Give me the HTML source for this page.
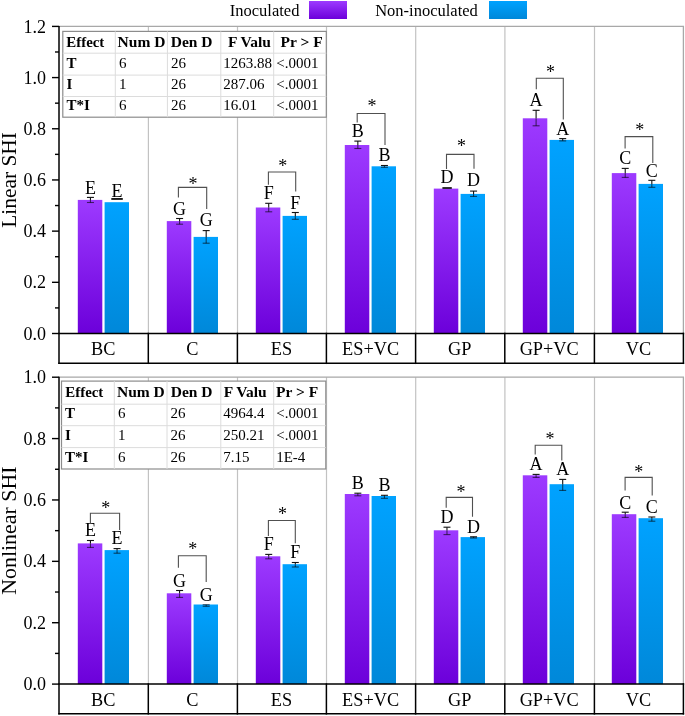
<!DOCTYPE html><html><head><meta charset="utf-8"><style>html,body{margin:0;padding:0;background:#fff;}svg{display:block;will-change:transform;}</style></head><body>
<svg width="685" height="716" viewBox="0 0 685 716" font-family='"Liberation Serif", serif'>
<defs>
<linearGradient id="gp" x1="0" y1="0" x2="0" y2="1"><stop offset="0" stop-color="#9d3aff"/><stop offset="1" stop-color="#6c00da"/></linearGradient>
<linearGradient id="gb" x1="0" y1="0" x2="0" y2="1"><stop offset="0" stop-color="#00a2ff"/><stop offset="1" stop-color="#0088d9"/></linearGradient>
<linearGradient id="lp" x1="0" y1="0" x2="0" y2="1"><stop offset="0" stop-color="#9d3aff"/><stop offset="1" stop-color="#6c00da"/></linearGradient>
</defs>
<rect width="685" height="716" fill="#fff"/>
<text x="229.8" y="15.5" font-size="16.5" fill="#000">Inoculated</text>
<rect x="309" y="1" width="38" height="18" fill="url(#gp)"/>
<text x="375.2" y="15.5" font-size="16.5" fill="#000">Non-inoculated</text>
<rect x="489" y="1" width="38" height="18" fill="url(#gb)"/>
<g stroke="#c2c2c2" stroke-width="1.2" fill="none">
<line x1="148.4" y1="26.4" x2="148.4" y2="333.5"/>
<line x1="237.5" y1="26.4" x2="237.5" y2="333.5"/>
<line x1="326.5" y1="26.4" x2="326.5" y2="333.5"/>
<line x1="415.7" y1="26.4" x2="415.7" y2="333.5"/>
<line x1="504.9" y1="26.4" x2="504.9" y2="333.5"/>
<line x1="594.5" y1="26.4" x2="594.5" y2="333.5"/>
</g>
<path d="M59.0 26.4H683.4V333.5" stroke="#a8a8a8" stroke-width="1.3" fill="none"/>
<rect x="62.8" y="31.4" width="263.5" height="85.8" fill="#fff" stroke="#8c8c8c" stroke-width="1.2"/>
<g stroke="#dcdcdc" stroke-width="1">
<line x1="62.8" y1="53.2" x2="326.3" y2="53.2"/>
<line x1="62.8" y1="75.1" x2="326.3" y2="75.1"/>
<line x1="62.8" y1="96.5" x2="326.3" y2="96.5"/>
<line x1="115.3" y1="31.4" x2="115.3" y2="117.2"/>
<line x1="167.4" y1="31.4" x2="167.4" y2="117.2"/>
<line x1="220.8" y1="31.4" x2="220.8" y2="117.2"/>
<line x1="273.7" y1="31.4" x2="273.7" y2="117.2"/>
</g>
<clipPath id="c0_0"><rect x="62.8" y="31.4" width="51.7" height="85.8"/></clipPath>
<clipPath id="c0_1"><rect x="115.3" y="31.4" width="51" height="85.8"/></clipPath>
<clipPath id="c0_2"><rect x="167.4" y="31.4" width="52.1" height="85.8"/></clipPath>
<clipPath id="c0_3"><rect x="220.8" y="31.4" width="51.7" height="85.8"/></clipPath>
<clipPath id="c0_4"><rect x="273.7" y="31.4" width="50.8" height="85.8"/></clipPath>
<text x="66.3" y="46.66" font-size="14.9" font-weight="bold" clip-path="url(#c0_0)">Effect</text>
<text x="117.6" y="46.66" font-size="15.5" font-weight="bold" clip-path="url(#c0_1)">Num D</text>
<text x="170.8" y="46.66" font-size="15.5" font-weight="bold" clip-path="url(#c0_2)">Den D</text>
<text x="228" y="46.66" font-size="15.5" font-weight="bold" clip-path="url(#c0_3)">F Valu</text>
<text x="280.6" y="46.66" font-size="15.5" font-weight="bold" clip-path="url(#c0_4)">Pr &gt; F</text>
<text x="66.4" y="67.53" font-size="15" font-weight="bold" clip-path="url(#c0_0)">T</text>
<text x="118.9" y="67.53" font-size="15"  clip-path="url(#c0_1)">6</text>
<text x="171" y="67.53" font-size="15"  clip-path="url(#c0_2)">26</text>
<text x="223.3" y="67.53" font-size="15"  clip-path="url(#c0_3)">1263.88</text>
<text x="276.2" y="67.53" font-size="15"  clip-path="url(#c0_4)">&lt;.0001</text>
<text x="66.4" y="89.08" font-size="15" font-weight="bold" clip-path="url(#c0_0)">I</text>
<text x="118.9" y="89.08" font-size="15"  clip-path="url(#c0_1)">1</text>
<text x="171" y="89.08" font-size="15"  clip-path="url(#c0_2)">26</text>
<text x="223.3" y="89.08" font-size="15"  clip-path="url(#c0_3)">287.06</text>
<text x="276.2" y="89.08" font-size="15"  clip-path="url(#c0_4)">&lt;.0001</text>
<text x="66.4" y="109.99" font-size="15" font-weight="bold" clip-path="url(#c0_0)">T*I</text>
<text x="118.9" y="109.99" font-size="15"  clip-path="url(#c0_1)">6</text>
<text x="171" y="109.99" font-size="15"  clip-path="url(#c0_2)">26</text>
<text x="223.3" y="109.99" font-size="15"  clip-path="url(#c0_3)">16.01</text>
<text x="276.2" y="109.99" font-size="15"  clip-path="url(#c0_4)">&lt;.0001</text>
<rect x="77.8" y="199.9" width="24.5" height="133.6" fill="url(#gp)"/>
<rect x="104.6" y="202.2" width="24.4" height="131.3" fill="url(#gb)"/>
<g stroke="#111" stroke-width="1.1">
<line x1="90.45" y1="197.4" x2="90.45" y2="199.9"/><line x1="86.95" y1="197.4" x2="93.95" y2="197.4"/>
</g><g stroke="#000" stroke-opacity="0.6" stroke-width="1.1">
<line x1="90.45" y1="199.9" x2="90.45" y2="202.5"/><line x1="86.95" y1="202.5" x2="93.95" y2="202.5"/>
</g>
<text x="90.45" y="193.7" font-size="18" text-anchor="middle">E</text>
<text x="117.05" y="197.2" font-size="18" text-anchor="middle">E</text>
<rect x="166.8" y="221.1" width="24.5" height="112.4" fill="url(#gp)"/>
<rect x="193.6" y="236.9" width="24.4" height="96.6" fill="url(#gb)"/>
<g stroke="#111" stroke-width="1.1">
<line x1="179.58" y1="218.5" x2="179.58" y2="221.1"/><line x1="176.08" y1="218.5" x2="183.08" y2="218.5"/>
</g><g stroke="#000" stroke-opacity="0.6" stroke-width="1.1">
<line x1="179.58" y1="221.1" x2="179.58" y2="224.2"/><line x1="176.08" y1="224.2" x2="183.08" y2="224.2"/>
</g>
<g stroke="#111" stroke-width="1.1">
<line x1="206.18" y1="230.6" x2="206.18" y2="236.9"/><line x1="202.68" y1="230.6" x2="209.68" y2="230.6"/>
</g><g stroke="#000" stroke-opacity="0.6" stroke-width="1.1">
<line x1="206.18" y1="236.9" x2="206.18" y2="243.2"/><line x1="202.68" y1="243.2" x2="209.68" y2="243.2"/>
</g>
<text x="179.58" y="214.5" font-size="18" text-anchor="middle">G</text>
<text x="206.18" y="226.3" font-size="18" text-anchor="middle">G</text>
<path d="M178.4 197.4V187.4H206.7V209" fill="none" stroke="#505050" stroke-width="1.1"/>
<text x="192.9" y="190.2" font-size="18" text-anchor="middle">*</text>
<rect x="255.8" y="207.5" width="24.5" height="126" fill="url(#gp)"/>
<rect x="282.6" y="215.9" width="24.4" height="117.6" fill="url(#gb)"/>
<g stroke="#111" stroke-width="1.1">
<line x1="268.71" y1="203.3" x2="268.71" y2="207.5"/><line x1="265.21" y1="203.3" x2="272.21" y2="203.3"/>
</g><g stroke="#000" stroke-opacity="0.6" stroke-width="1.1">
<line x1="268.71" y1="207.5" x2="268.71" y2="211.8"/><line x1="265.21" y1="211.8" x2="272.21" y2="211.8"/>
</g>
<g stroke="#111" stroke-width="1.1">
<line x1="295.31" y1="212.5" x2="295.31" y2="215.9"/><line x1="291.81" y1="212.5" x2="298.81" y2="212.5"/>
</g><g stroke="#000" stroke-opacity="0.6" stroke-width="1.1">
<line x1="295.31" y1="215.9" x2="295.31" y2="219.3"/><line x1="291.81" y1="219.3" x2="298.81" y2="219.3"/>
</g>
<text x="268.71" y="198.8" font-size="18" text-anchor="middle">F</text>
<text x="295.31" y="208.8" font-size="18" text-anchor="middle">F</text>
<path d="M268.4 184.7V172H295.7V191.4" fill="none" stroke="#505050" stroke-width="1.1"/>
<text x="282.7" y="171.5" font-size="18" text-anchor="middle">*</text>
<rect x="344.8" y="145" width="24.5" height="188.5" fill="url(#gp)"/>
<rect x="371.6" y="166.3" width="24.4" height="167.2" fill="url(#gb)"/>
<g stroke="#111" stroke-width="1.1">
<line x1="357.84" y1="141.1" x2="357.84" y2="145"/><line x1="354.34" y1="141.1" x2="361.34" y2="141.1"/>
</g><g stroke="#000" stroke-opacity="0.6" stroke-width="1.1">
<line x1="357.84" y1="145" x2="357.84" y2="148.5"/><line x1="354.34" y1="148.5" x2="361.34" y2="148.5"/>
</g>
<g stroke="#111" stroke-width="1.1">
<line x1="384.44" y1="165.5" x2="384.44" y2="166.3"/><line x1="380.94" y1="165.5" x2="387.94" y2="165.5"/>
</g><g stroke="#000" stroke-opacity="0.6" stroke-width="1.1">
<line x1="384.44" y1="166.3" x2="384.44" y2="167.3"/><line x1="380.94" y1="167.3" x2="387.94" y2="167.3"/>
</g>
<text x="357.84" y="136.6" font-size="18" text-anchor="middle">B</text>
<text x="384.44" y="161" font-size="18" text-anchor="middle">B</text>
<path d="M357.2 122.5V113.5H385V145.1" fill="none" stroke="#505050" stroke-width="1.1"/>
<text x="372" y="112" font-size="18" text-anchor="middle">*</text>
<rect x="433.8" y="188.6" width="24.5" height="144.9" fill="url(#gp)"/>
<rect x="460.6" y="193.9" width="24.4" height="139.6" fill="url(#gb)"/>
<g stroke="#111" stroke-width="1.1">
<line x1="473.57" y1="191.1" x2="473.57" y2="193.9"/><line x1="470.07" y1="191.1" x2="477.07" y2="191.1"/>
</g><g stroke="#000" stroke-opacity="0.6" stroke-width="1.1">
<line x1="473.57" y1="193.9" x2="473.57" y2="196.4"/><line x1="470.07" y1="196.4" x2="477.07" y2="196.4"/>
</g>
<text x="446.97" y="183.4" font-size="18" text-anchor="middle">D</text>
<text x="473.57" y="186.4" font-size="18" text-anchor="middle">D</text>
<path d="M446.5 169V154.4H474V168.7" fill="none" stroke="#505050" stroke-width="1.1"/>
<text x="461.5" y="152.3" font-size="18" text-anchor="middle">*</text>
<rect x="522.8" y="118.3" width="24.5" height="215.2" fill="url(#gp)"/>
<rect x="549.6" y="139.9" width="24.4" height="193.6" fill="url(#gb)"/>
<g stroke="#111" stroke-width="1.1">
<line x1="536.1" y1="110.3" x2="536.1" y2="118.3"/><line x1="532.6" y1="110.3" x2="539.6" y2="110.3"/>
</g><g stroke="#000" stroke-opacity="0.6" stroke-width="1.1">
<line x1="536.1" y1="118.3" x2="536.1" y2="125.8"/><line x1="532.6" y1="125.8" x2="539.6" y2="125.8"/>
</g>
<g stroke="#111" stroke-width="1.1">
<line x1="562.7" y1="138.6" x2="562.7" y2="139.9"/><line x1="559.2" y1="138.6" x2="566.2" y2="138.6"/>
</g><g stroke="#000" stroke-opacity="0.6" stroke-width="1.1">
<line x1="562.7" y1="139.9" x2="562.7" y2="140.9"/><line x1="559.2" y1="140.9" x2="566.2" y2="140.9"/>
</g>
<text x="536.1" y="105.8" font-size="18" text-anchor="middle">A</text>
<text x="562.7" y="134.5" font-size="18" text-anchor="middle">A</text>
<path d="M536.3 89.2V78.2H563.3V119.6" fill="none" stroke="#505050" stroke-width="1.1"/>
<text x="550.5" y="77.6" font-size="18" text-anchor="middle">*</text>
<rect x="611.8" y="173.1" width="24.5" height="160.4" fill="url(#gp)"/>
<rect x="638.6" y="183.9" width="24.4" height="149.6" fill="url(#gb)"/>
<g stroke="#111" stroke-width="1.1">
<line x1="625.23" y1="168.4" x2="625.23" y2="173.1"/><line x1="621.73" y1="168.4" x2="628.73" y2="168.4"/>
</g><g stroke="#000" stroke-opacity="0.6" stroke-width="1.1">
<line x1="625.23" y1="173.1" x2="625.23" y2="177.4"/><line x1="621.73" y1="177.4" x2="628.73" y2="177.4"/>
</g>
<g stroke="#111" stroke-width="1.1">
<line x1="651.83" y1="180.3" x2="651.83" y2="183.9"/><line x1="648.33" y1="180.3" x2="655.33" y2="180.3"/>
</g><g stroke="#000" stroke-opacity="0.6" stroke-width="1.1">
<line x1="651.83" y1="183.9" x2="651.83" y2="187.3"/><line x1="648.33" y1="187.3" x2="655.33" y2="187.3"/>
</g>
<text x="625.23" y="163.8" font-size="18" text-anchor="middle">C</text>
<text x="651.83" y="176.7" font-size="18" text-anchor="middle">C</text>
<path d="M625.1 148.6V136.6H652.8V162.9" fill="none" stroke="#505050" stroke-width="1.1"/>
<text x="639.7" y="135.6" font-size="18" text-anchor="middle">*</text>
<rect x="111.3" y="198.1" width="11.5" height="1.7" fill="#000"/>
<rect x="442.4" y="187.2" width="9.4" height="1.6" fill="#000"/>
<g stroke="#000" stroke-width="1.5" fill="none" stroke-linecap="square">
<line x1="59.0" y1="26.7" x2="59.0" y2="363.3"/>
<line x1="59.0" y1="333.5" x2="683.4" y2="333.5"/>
<line x1="59.0" y1="363.3" x2="683.4" y2="363.3"/>
<line x1="148.3" y1="333.5" x2="148.3" y2="363.3"/>
<line x1="237.4" y1="333.5" x2="237.4" y2="363.3"/>
<line x1="326.4" y1="333.5" x2="326.4" y2="363.3"/>
<line x1="415.6" y1="333.5" x2="415.6" y2="363.3"/>
<line x1="504.8" y1="333.5" x2="504.8" y2="363.3"/>
<line x1="594.4" y1="333.5" x2="594.4" y2="363.3"/>
<line x1="683.4" y1="333.5" x2="683.4" y2="363.3"/>
</g>
<g stroke="#000" stroke-width="1.4">
<line x1="52" y1="333.5" x2="59" y2="333.5"/>
<line x1="55" y1="307.91" x2="59" y2="307.91"/>
<line x1="52" y1="282.32" x2="59" y2="282.32"/>
<line x1="55" y1="256.72" x2="59" y2="256.72"/>
<line x1="52" y1="231.13" x2="59" y2="231.13"/>
<line x1="55" y1="205.54" x2="59" y2="205.54"/>
<line x1="52" y1="179.95" x2="59" y2="179.95"/>
<line x1="55" y1="154.36" x2="59" y2="154.36"/>
<line x1="52" y1="128.77" x2="59" y2="128.77"/>
<line x1="55" y1="103.17" x2="59" y2="103.17"/>
<line x1="52" y1="77.58" x2="59" y2="77.58"/>
<line x1="55" y1="51.99" x2="59" y2="51.99"/>
<line x1="52" y1="26.4" x2="59" y2="26.4"/>
</g>
<text x="46" y="339.6" font-size="18" text-anchor="end">0.0</text>
<text x="46" y="288.42" font-size="18" text-anchor="end">0.2</text>
<text x="46" y="237.23" font-size="18" text-anchor="end">0.4</text>
<text x="46" y="186.05" font-size="18" text-anchor="end">0.6</text>
<text x="46" y="134.87" font-size="18" text-anchor="end">0.8</text>
<text x="46" y="83.68" font-size="18" text-anchor="end">1.0</text>
<text x="46" y="32.5" font-size="18" text-anchor="end">1.2</text>
<text x="103.25" y="354.8" font-size="18.3" text-anchor="middle">BC</text>
<text x="192.45" y="354.8" font-size="18.3" text-anchor="middle">C</text>
<text x="281.5" y="354.8" font-size="18.3" text-anchor="middle">ES</text>
<text x="370.6" y="354.8" font-size="18.3" text-anchor="middle">ES+VC</text>
<text x="459.8" y="354.8" font-size="18.3" text-anchor="middle">GP</text>
<text x="549.2" y="354.8" font-size="18.3" text-anchor="middle">GP+VC</text>
<text x="638.5" y="354.8" font-size="18.3" text-anchor="middle">VC</text>
<text transform="translate(15.9 179.95) rotate(-90)" font-size="21.4" text-anchor="middle">Linear SHI</text>
<g stroke="#c2c2c2" stroke-width="1.2" fill="none">
<line x1="148.4" y1="377.2" x2="148.4" y2="684.1"/>
<line x1="237.5" y1="377.2" x2="237.5" y2="684.1"/>
<line x1="326.5" y1="377.2" x2="326.5" y2="684.1"/>
<line x1="415.7" y1="377.2" x2="415.7" y2="684.1"/>
<line x1="504.9" y1="377.2" x2="504.9" y2="684.1"/>
<line x1="594.5" y1="377.2" x2="594.5" y2="684.1"/>
</g>
<path d="M59.0 377.2H683.4V684.1" stroke="#a8a8a8" stroke-width="1.3" fill="none"/>
<rect x="61.5" y="381.1" width="264.3" height="87.9" fill="#fff" stroke="#8c8c8c" stroke-width="1.2"/>
<g stroke="#dcdcdc" stroke-width="1">
<line x1="61.5" y1="404.2" x2="325.8" y2="404.2"/>
<line x1="61.5" y1="425.7" x2="325.8" y2="425.7"/>
<line x1="61.5" y1="447.6" x2="325.8" y2="447.6"/>
<line x1="114.3" y1="381.1" x2="114.3" y2="469"/>
<line x1="167" y1="381.1" x2="167" y2="469"/>
<line x1="220.8" y1="381.1" x2="220.8" y2="469"/>
<line x1="273.7" y1="381.1" x2="273.7" y2="469"/>
</g>
<clipPath id="c1_0"><rect x="61.5" y="381.1" width="52" height="87.9"/></clipPath>
<clipPath id="c1_1"><rect x="114.3" y="381.1" width="51.7" height="87.9"/></clipPath>
<clipPath id="c1_2"><rect x="167" y="381.1" width="52.5" height="87.9"/></clipPath>
<clipPath id="c1_3"><rect x="220.8" y="381.1" width="48.2" height="87.9"/></clipPath>
<clipPath id="c1_4"><rect x="273.7" y="381.1" width="50.8" height="87.9"/></clipPath>
<text x="65.3" y="397.27" font-size="14.9" font-weight="bold" clip-path="url(#c1_0)">Effect</text>
<text x="117" y="397.27" font-size="15.5" font-weight="bold" clip-path="url(#c1_1)">Num D</text>
<text x="170.8" y="397.27" font-size="15.5" font-weight="bold" clip-path="url(#c1_2)">Den D</text>
<text x="223.7" y="397.27" font-size="15.5" font-weight="bold" clip-path="url(#c1_3)">F Valu</text>
<text x="276" y="397.27" font-size="15.5" font-weight="bold" clip-path="url(#c1_4)">Pr &gt; F</text>
<text x="65.1" y="418.25" font-size="15" font-weight="bold" clip-path="url(#c1_0)">T</text>
<text x="117.9" y="418.25" font-size="15"  clip-path="url(#c1_1)">6</text>
<text x="170.6" y="418.25" font-size="15"  clip-path="url(#c1_2)">26</text>
<text x="223.3" y="418.25" font-size="15"  clip-path="url(#c1_3)">4964.4</text>
<text x="276.2" y="418.25" font-size="15"  clip-path="url(#c1_4)">&lt;.0001</text>
<text x="65.1" y="440.03" font-size="15" font-weight="bold" clip-path="url(#c1_0)">I</text>
<text x="117.9" y="440.03" font-size="15"  clip-path="url(#c1_1)">1</text>
<text x="170.6" y="440.03" font-size="15"  clip-path="url(#c1_2)">26</text>
<text x="223.3" y="440.03" font-size="15"  clip-path="url(#c1_3)">250.21</text>
<text x="276.2" y="440.03" font-size="15"  clip-path="url(#c1_4)">&lt;.0001</text>
<text x="65.1" y="461.58" font-size="15" font-weight="bold" clip-path="url(#c1_0)">T*I</text>
<text x="117.9" y="461.58" font-size="15"  clip-path="url(#c1_1)">6</text>
<text x="170.6" y="461.58" font-size="15"  clip-path="url(#c1_2)">26</text>
<text x="223.3" y="461.58" font-size="15"  clip-path="url(#c1_3)">7.15</text>
<text x="276.2" y="461.58" font-size="15"  clip-path="url(#c1_4)">1E-4</text>
<rect x="77.8" y="543.4" width="24.5" height="140.7" fill="url(#gp)"/>
<rect x="104.6" y="550.1" width="24.4" height="134" fill="url(#gb)"/>
<g stroke="#111" stroke-width="1.1">
<line x1="90.45" y1="540.5" x2="90.45" y2="543.4"/><line x1="86.95" y1="540.5" x2="93.95" y2="540.5"/>
</g><g stroke="#000" stroke-opacity="0.6" stroke-width="1.1">
<line x1="90.45" y1="543.4" x2="90.45" y2="547.4"/><line x1="86.95" y1="547.4" x2="93.95" y2="547.4"/>
</g>
<g stroke="#111" stroke-width="1.1">
<line x1="117.05" y1="548.6" x2="117.05" y2="550.1"/><line x1="113.55" y1="548.6" x2="120.55" y2="548.6"/>
</g><g stroke="#000" stroke-opacity="0.6" stroke-width="1.1">
<line x1="117.05" y1="550.1" x2="117.05" y2="553.2"/><line x1="113.55" y1="553.2" x2="120.55" y2="553.2"/>
</g>
<text x="90.45" y="536.2" font-size="18" text-anchor="middle">E</text>
<text x="117.05" y="544.4" font-size="18" text-anchor="middle">E</text>
<path d="M90.4 523.4V513.2H119.6V529.9" fill="none" stroke="#505050" stroke-width="1.1"/>
<text x="105.8" y="514.1" font-size="18" text-anchor="middle">*</text>
<rect x="166.8" y="593.3" width="24.5" height="90.8" fill="url(#gp)"/>
<rect x="193.6" y="604.5" width="24.4" height="79.6" fill="url(#gb)"/>
<g stroke="#111" stroke-width="1.1">
<line x1="179.58" y1="590.5" x2="179.58" y2="593.3"/><line x1="176.08" y1="590.5" x2="183.08" y2="590.5"/>
</g><g stroke="#000" stroke-opacity="0.6" stroke-width="1.1">
<line x1="179.58" y1="593.3" x2="179.58" y2="597.4"/><line x1="176.08" y1="597.4" x2="183.08" y2="597.4"/>
</g>
<g stroke="#111" stroke-width="1.1">
</g><g stroke="#000" stroke-opacity="0.6" stroke-width="1.1">
<line x1="206.18" y1="604.7" x2="206.18" y2="606.3"/><line x1="202.68" y1="606.3" x2="209.68" y2="606.3"/>
<line x1="202.68" y1="604.7" x2="209.68" y2="604.7"/>
</g>
<text x="179.58" y="586.5" font-size="18" text-anchor="middle">G</text>
<text x="206.18" y="600.5" font-size="18" text-anchor="middle">G</text>
<path d="M178.4 567.8V555.8H206.2V582.1" fill="none" stroke="#505050" stroke-width="1.1"/>
<text x="192.7" y="555.1" font-size="18" text-anchor="middle">*</text>
<rect x="255.8" y="556.3" width="24.5" height="127.8" fill="url(#gp)"/>
<rect x="282.6" y="564.2" width="24.4" height="119.9" fill="url(#gb)"/>
<g stroke="#111" stroke-width="1.1">
<line x1="268.71" y1="554.4" x2="268.71" y2="556.3"/><line x1="265.21" y1="554.4" x2="272.21" y2="554.4"/>
</g><g stroke="#000" stroke-opacity="0.6" stroke-width="1.1">
<line x1="268.71" y1="556.3" x2="268.71" y2="558.8"/><line x1="265.21" y1="558.8" x2="272.21" y2="558.8"/>
</g>
<g stroke="#111" stroke-width="1.1">
<line x1="295.31" y1="562.5" x2="295.31" y2="564.2"/><line x1="291.81" y1="562.5" x2="298.81" y2="562.5"/>
</g><g stroke="#000" stroke-opacity="0.6" stroke-width="1.1">
<line x1="295.31" y1="564.2" x2="295.31" y2="567"/><line x1="291.81" y1="567" x2="298.81" y2="567"/>
</g>
<text x="268.71" y="550.1" font-size="18" text-anchor="middle">F</text>
<text x="295.31" y="557.7" font-size="18" text-anchor="middle">F</text>
<path d="M268.4 536V520.5H295.3V543.3" fill="none" stroke="#505050" stroke-width="1.1"/>
<text x="282.5" y="520.2" font-size="18" text-anchor="middle">*</text>
<rect x="344.8" y="494" width="24.5" height="190.1" fill="url(#gp)"/>
<rect x="371.6" y="496" width="24.4" height="188.1" fill="url(#gb)"/>
<g stroke="#111" stroke-width="1.1">
<line x1="357.84" y1="493.2" x2="357.84" y2="494"/><line x1="354.34" y1="493.2" x2="361.34" y2="493.2"/>
</g><g stroke="#000" stroke-opacity="0.6" stroke-width="1.1">
<line x1="357.84" y1="494" x2="357.84" y2="495.8"/><line x1="354.34" y1="495.8" x2="361.34" y2="495.8"/>
</g>
<g stroke="#111" stroke-width="1.1">
<line x1="384.44" y1="495.3" x2="384.44" y2="496"/><line x1="380.94" y1="495.3" x2="387.94" y2="495.3"/>
</g><g stroke="#000" stroke-opacity="0.6" stroke-width="1.1">
<line x1="384.44" y1="496" x2="384.44" y2="498.3"/><line x1="380.94" y1="498.3" x2="387.94" y2="498.3"/>
</g>
<text x="357.84" y="488.6" font-size="18" text-anchor="middle">B</text>
<text x="384.44" y="490.7" font-size="18" text-anchor="middle">B</text>
<rect x="433.8" y="530.3" width="24.5" height="153.8" fill="url(#gp)"/>
<rect x="460.6" y="537.1" width="24.4" height="147" fill="url(#gb)"/>
<g stroke="#111" stroke-width="1.1">
<line x1="446.97" y1="527.2" x2="446.97" y2="530.3"/><line x1="443.47" y1="527.2" x2="450.47" y2="527.2"/>
</g><g stroke="#000" stroke-opacity="0.6" stroke-width="1.1">
<line x1="446.97" y1="530.3" x2="446.97" y2="534.6"/><line x1="443.47" y1="534.6" x2="450.47" y2="534.6"/>
</g>
<g stroke="#111" stroke-width="1.1">
<line x1="473.57" y1="536.8" x2="473.57" y2="537.1"/><line x1="470.07" y1="536.8" x2="477.07" y2="536.8"/>
</g><g stroke="#000" stroke-opacity="0.6" stroke-width="1.1">
<line x1="473.57" y1="537.1" x2="473.57" y2="538"/><line x1="470.07" y1="538" x2="477.07" y2="538"/>
</g>
<text x="446.97" y="523" font-size="18" text-anchor="middle">D</text>
<text x="473.57" y="532.7" font-size="18" text-anchor="middle">D</text>
<path d="M446.2 507.8V497.4H472.5V516.8" fill="none" stroke="#505050" stroke-width="1.1"/>
<text x="461" y="497.7" font-size="18" text-anchor="middle">*</text>
<rect x="522.8" y="475.3" width="24.5" height="208.8" fill="url(#gp)"/>
<rect x="549.6" y="484.2" width="24.4" height="199.9" fill="url(#gb)"/>
<g stroke="#111" stroke-width="1.1">
<line x1="536.1" y1="474.4" x2="536.1" y2="475.3"/><line x1="532.6" y1="474.4" x2="539.6" y2="474.4"/>
</g><g stroke="#000" stroke-opacity="0.6" stroke-width="1.1">
<line x1="536.1" y1="475.3" x2="536.1" y2="477.4"/><line x1="532.6" y1="477.4" x2="539.6" y2="477.4"/>
</g>
<g stroke="#111" stroke-width="1.1">
<line x1="562.7" y1="479.4" x2="562.7" y2="484.2"/><line x1="559.2" y1="479.4" x2="566.2" y2="479.4"/>
</g><g stroke="#000" stroke-opacity="0.6" stroke-width="1.1">
<line x1="562.7" y1="484.2" x2="562.7" y2="490.4"/><line x1="559.2" y1="490.4" x2="566.2" y2="490.4"/>
</g>
<text x="536.1" y="470.3" font-size="18" text-anchor="middle">A</text>
<text x="562.7" y="475.4" font-size="18" text-anchor="middle">A</text>
<path d="M535.2 454.5V445.3H561.8V460.6" fill="none" stroke="#505050" stroke-width="1.1"/>
<text x="549.9" y="444.5" font-size="18" text-anchor="middle">*</text>
<rect x="611.8" y="514.2" width="24.5" height="169.9" fill="url(#gp)"/>
<rect x="638.6" y="518.2" width="24.4" height="165.9" fill="url(#gb)"/>
<g stroke="#111" stroke-width="1.1">
<line x1="625.23" y1="512.2" x2="625.23" y2="514.2"/><line x1="621.73" y1="512.2" x2="628.73" y2="512.2"/>
</g><g stroke="#000" stroke-opacity="0.6" stroke-width="1.1">
<line x1="625.23" y1="514.2" x2="625.23" y2="517.4"/><line x1="621.73" y1="517.4" x2="628.73" y2="517.4"/>
</g>
<g stroke="#111" stroke-width="1.1">
<line x1="651.83" y1="517" x2="651.83" y2="518.2"/><line x1="648.33" y1="517" x2="655.33" y2="517"/>
</g><g stroke="#000" stroke-opacity="0.6" stroke-width="1.1">
<line x1="651.83" y1="518.2" x2="651.83" y2="521.2"/><line x1="648.33" y1="521.2" x2="655.33" y2="521.2"/>
</g>
<text x="625.23" y="508.6" font-size="18" text-anchor="middle">C</text>
<text x="651.83" y="512.6" font-size="18" text-anchor="middle">C</text>
<path d="M625.1 490.4V477.4H652.2V495.5" fill="none" stroke="#505050" stroke-width="1.1"/>
<text x="638.7" y="478" font-size="18" text-anchor="middle">*</text>
<g stroke="#000" stroke-width="1.5" fill="none" stroke-linecap="square">
<line x1="59.0" y1="377.5" x2="59.0" y2="713.8"/>
<line x1="59.0" y1="684.1" x2="683.4" y2="684.1"/>
<line x1="59.0" y1="713.8" x2="683.4" y2="713.8"/>
<line x1="148.3" y1="684.1" x2="148.3" y2="713.8"/>
<line x1="237.4" y1="684.1" x2="237.4" y2="713.8"/>
<line x1="326.4" y1="684.1" x2="326.4" y2="713.8"/>
<line x1="415.6" y1="684.1" x2="415.6" y2="713.8"/>
<line x1="504.8" y1="684.1" x2="504.8" y2="713.8"/>
<line x1="594.4" y1="684.1" x2="594.4" y2="713.8"/>
<line x1="683.4" y1="684.1" x2="683.4" y2="713.8"/>
</g>
<g stroke="#000" stroke-width="1.4">
<line x1="52" y1="684.1" x2="59" y2="684.1"/>
<line x1="55" y1="653.41" x2="59" y2="653.41"/>
<line x1="52" y1="622.72" x2="59" y2="622.72"/>
<line x1="55" y1="592.03" x2="59" y2="592.03"/>
<line x1="52" y1="561.34" x2="59" y2="561.34"/>
<line x1="55" y1="530.65" x2="59" y2="530.65"/>
<line x1="52" y1="499.96" x2="59" y2="499.96"/>
<line x1="55" y1="469.27" x2="59" y2="469.27"/>
<line x1="52" y1="438.58" x2="59" y2="438.58"/>
<line x1="55" y1="407.89" x2="59" y2="407.89"/>
<line x1="52" y1="377.2" x2="59" y2="377.2"/>
</g>
<text x="46" y="690.2" font-size="18" text-anchor="end">0.0</text>
<text x="46" y="628.82" font-size="18" text-anchor="end">0.2</text>
<text x="46" y="567.44" font-size="18" text-anchor="end">0.4</text>
<text x="46" y="506.06" font-size="18" text-anchor="end">0.6</text>
<text x="46" y="444.68" font-size="18" text-anchor="end">0.8</text>
<text x="46" y="383.3" font-size="18" text-anchor="end">1.0</text>
<text x="103.25" y="705.95" font-size="18.3" text-anchor="middle">BC</text>
<text x="192.45" y="705.95" font-size="18.3" text-anchor="middle">C</text>
<text x="281.5" y="705.95" font-size="18.3" text-anchor="middle">ES</text>
<text x="370.6" y="705.95" font-size="18.3" text-anchor="middle">ES+VC</text>
<text x="459.8" y="705.95" font-size="18.3" text-anchor="middle">GP</text>
<text x="549.2" y="705.95" font-size="18.3" text-anchor="middle">GP+VC</text>
<text x="638.5" y="705.95" font-size="18.3" text-anchor="middle">VC</text>
<text transform="translate(15.9 530.65) rotate(-90)" font-size="21.9" text-anchor="middle">Nonlinear SHI</text>
</svg></body></html>
